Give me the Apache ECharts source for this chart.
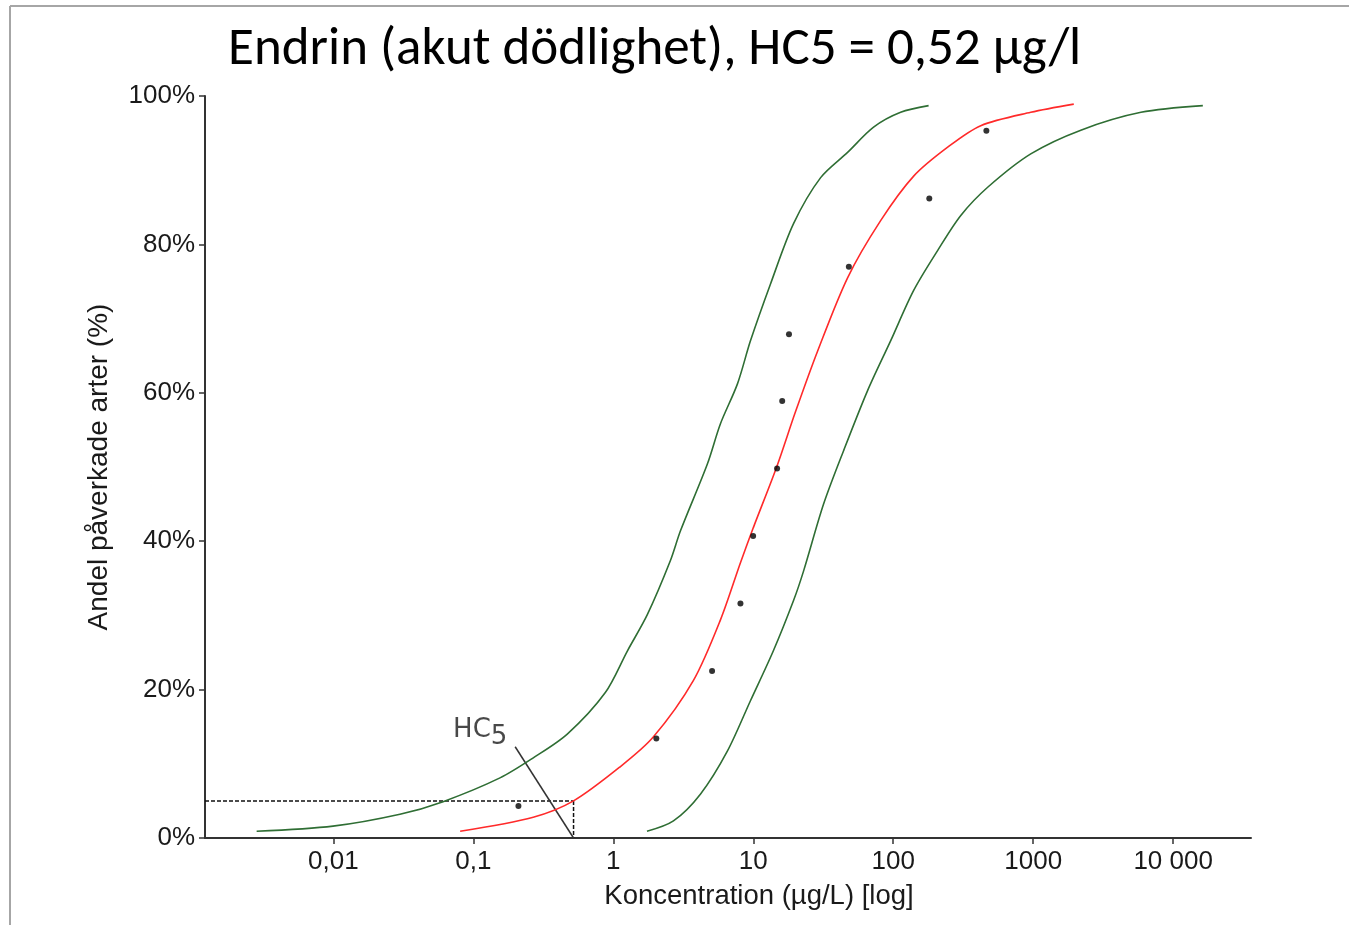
<!DOCTYPE html>
<html>
<head>
<meta charset="utf-8">
<script src="https://cdn.jsdelivr.net/npm/echarts@6/dist/echarts.min.js"></script>
<style>
html,body{margin:0;padding:0;background:#fff;}
#c{width:1349px;height:925px;}
</style>
</head>
<body>
<div id="c"></div>
<script>
// ---- data ----
const titleText = 'Endrin (akut dödlighet), HC5 = 0,52 µg/l';
const xAxisName = 'Koncentration (µg/L) [log]';
const yAxisName = 'Andel påverkade arter (%)';
const xTickValues = [0.01, 0.1, 1, 10, 100, 1000, 10000];
const xTickLabels = ['0,01', '0,1', '1', '10', '100', '1000', '10 000'];
const xMin = 0.00121, xMax = 36000;
const hc5 = 0.52, hc5Pct = 5;

const fitted = [[0.0805,0.9],[0.268,2.8],[0.52,5.0],[1.12,9.6],[1.93,13.6],[3.73,21.2],[5.83,29.4],[8.1,37.1],[10.0,41.8],[14.7,50.0],[20.0,57.4],[28.8,65.6],[47.2,75.5],[81.3,83.2],[140,89.2],[245,93.1],[422,96.0],[961,97.8],[1950,98.9]];
const lowerBand = [[0.00283,0.9],[0.00994,1.6],[0.0299,3.2],[0.0608,4.9],[0.155,8.1],[0.268,10.8],[0.469,14.0],[0.877,19.6],[1.26,25.2],[1.75,30.1],[2.56,37.4],[3.02,41.4],[4.70,50.4],[5.82,55.8],[7.71,61.2],[9.55,67.0],[13.3,74.7],[19.4,82.8],[30.3,89.0],[47.2,92.4],[72.4,95.8],[113,97.8],[179,98.7]];
const upperBand = [[1.74,0.9],[2.69,2.3],[4.19,5.9],[6.53,11.7],[9.55,18.5],[13.9,25.2],[19.4,32.0],[22.9,36.0],[31.8,45.0],[44.2,52.2],[65.6,60.3],[95.8,67.0],[140,73.8],[208,79.2],[304,83.9],[473,87.7],[961,92.2],[2190,95.4],[5890,97.8],[16300,98.7]];
const species = [[0.21,4.3],[2.03,13.4],[5.08,22.5],[8.1,31.6],[9.98,40.7],[14.8,49.8],[16.1,58.9],[18.0,67.9],[48.2,77.0],[181,86.2],[463,95.3]];
const hc5LabelAt = [0.0717, 11.8];
const hc5Pointer = [[0.199, 12.3], [0.52, 0]];

const axisFont = '"Liberation Sans", Arial, Helvetica, sans-serif';
const chart = echarts.init(document.getElementById('c'), null, {renderer: 'canvas'});

chart.setOption({
  animation: false,
  backgroundColor: '#ffffff',
  title: {
    text: titleText,
    left: 223, top: 19,
    textStyle: {fontFamily: 'Carlito, Lato, "Open Sans", sans-serif', fontSize: 53, fontWeight: 'normal', color: '#000'}
  },
  graphic: [
    {type: 'line', shape: {x1: 10, y1: 6, x2: 1349, y2: 6}, style: {stroke: '#a6a6a6', lineWidth: 2}, silent: true},
    {type: 'line', shape: {x1: 10, y1: 6, x2: 10, y2: 925}, style: {stroke: '#a6a6a6', lineWidth: 2}, silent: true}
  ],
  grid: {left: 205, right: 98, top: 96, bottom: 87, containLabel: false},
  xAxis: {
    type: 'log', logBase: 10, min: xMin, max: xMax,
    name: xAxisName, nameLocation: 'middle', nameGap: 44,
    nameTextStyle: {fontFamily: axisFont, fontSize: 27.5, color: '#1a1a1a', padding: [0, 0, 0, 62]},
    axisLine: {lineStyle: {color: '#333', width: 2}},
    axisTick: {show: true, length: 6, customValues: xTickValues, lineStyle: {color: '#333', width: 1.5}},
    minorTick: {show: false},
    splitLine: {show: false},
    axisLabel: {
      customValues: xTickValues,
      margin: 11,
      fontFamily: axisFont, fontSize: 26, color: '#1a1a1a',
      formatter: function (v) {
        for (let i = 0; i < xTickValues.length; i++) {
          if (Math.abs(Math.log10(v) - Math.log10(xTickValues[i])) < 1e-6) return xTickLabels[i];
        }
        return '';
      }
    }
  },
  yAxis: {
    type: 'value', min: 0, max: 100, interval: 20,
    name: yAxisName, nameLocation: 'middle', nameGap: 92, nameRotate: 90,
    nameTextStyle: {fontFamily: axisFont, fontSize: 28, color: '#1a1a1a'},
    axisLine: {show: true, lineStyle: {color: '#333', width: 2}},
    axisTick: {show: true, length: 6, lineStyle: {color: '#333', width: 1.5}},
    splitLine: {show: false},
    axisLabel: {margin: 10, fontFamily: axisFont, fontSize: 26, color: '#1a1a1a', formatter: '{value}%'}
  },
  series: [
    {name: 'lower', type: 'line', data: lowerBand, showSymbol: false, smooth: 0.3, lineStyle: {color: '#2f6e34', width: 1.6}, z: 3},
    {name: 'upper', type: 'line', data: upperBand, showSymbol: false, smooth: 0.3, lineStyle: {color: '#2f6e34', width: 1.6}, z: 3},
    {name: 'fit', type: 'line', data: fitted, showSymbol: false, smooth: 0.3, lineStyle: {color: '#ff2a2a', width: 1.6}, z: 4},
    {name: 'species', type: 'scatter', data: species, symbol: 'circle', symbolSize: 6, itemStyle: {color: '#000'}, z: 5},
    {name: 'hc5h', type: 'line', data: [[xMin, hc5Pct], [hc5, hc5Pct]], showSymbol: false, lineStyle: {color: '#111', width: 1.5, type: [4, 2]}, z: 2},
    {name: 'hc5v', type: 'line', data: [[hc5, hc5Pct], [hc5, 0]], showSymbol: false, lineStyle: {color: '#111', width: 1.5, type: [4, 2]}, z: 2},
    {name: 'pointer', type: 'line', data: hc5Pointer, showSymbol: false, lineStyle: {color: '#333', width: 1.5}, z: 2},
    {name: 'hc5label', type: 'scatter', data: [hc5LabelAt], symbolSize: 0, z: 6,
      label: {show: true, position: [0, 0], align: 'left', verticalAlign: 'bottom',
        formatter: '{a|HC}{b|5}',
        rich: {
          a: {fontFamily: '"DejaVu Sans", sans-serif', fontSize: 26, color: '#1a1a1a', lineHeight: 33, verticalAlign: 'top'},
          b: {fontFamily: '"DejaVu Sans", sans-serif', fontSize: 26, color: '#1a1a1a', lineHeight: 33, verticalAlign: 'bottom'}
        }
      }
    }
  ]
});
</script>
</body>
</html>
